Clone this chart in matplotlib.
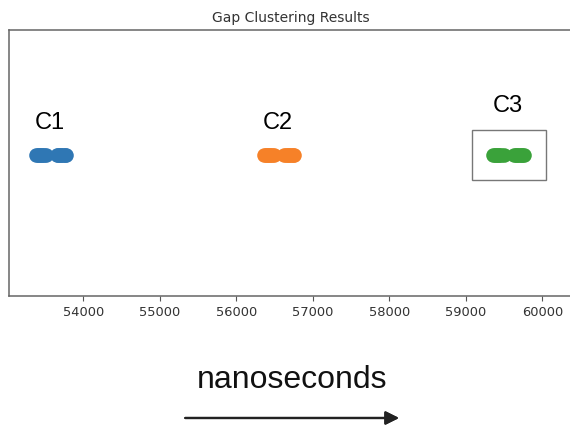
import numpy as np
import matplotlib.pyplot as plt
from matplotlib.patches import Rectangle

# cluster gap values (ns)
c1_gaps = [53385, 53405, 53425, 53445, 53465, 53485, 53510,
           53650, 53670, 53690, 53710, 53730, 53755, 53775]
c2_gaps = [56365, 56385, 56405, 56425, 56445, 56465, 56490,
           56630, 56650, 56670, 56690, 56710, 56735, 56755]
c3_gaps = [59360, 59380, 59400, 59420, 59440, 59465, 59495,
           59635, 59655, 59675, 59695, 59715, 59740, 59760]
cluster_names = ['C1', 'C2', 'C3']
cluster_colors = ['#2f77b4', '#f68128', '#3aa23a']
xticks = [54000, 55000, 56000, 57000, 58000, 59000, 60000]

fig = plt.figure(figsize=(5.70, 4.26), dpi=100)
ax = fig.add_axes([9 / 570, 130 / 426, 563 / 570, 266 / 426])

clusters = [c1_gaps, c2_gaps, c3_gaps]
for gaps, col in zip(clusters, cluster_colors):
    ax.scatter(gaps, np.zeros(len(gaps)), s=110, color=col, linewidths=0)

ax.set_xlim(53029, 60388)
ax.set_ylim(-0.053, 0.047)
ax.set_yticks([])
ax.set_xticks(xticks)
ax.set_xticklabels([str(t) for t in xticks], fontsize=9.4, color='#333333')
ax.tick_params(axis='x', length=3.5, width=0.8, color='#555555', pad=4)
for sp in ax.spines.values():
    sp.set_color('#666666')
    sp.set_linewidth(1.1)

ax.set_title('Gap Clustering Results', fontsize=10, color='#333333', pad=6)

# cluster labels
trans = ax.get_xaxis_transform()
label_y = [0.628, 0.628, 0.692]
for gaps, name, ly in zip(clusters, cluster_names, label_y):
    ax.text(np.mean(gaps) - 10, ly, name, transform=trans, ha='center', va='baseline',
            fontsize=17, family='Liberation Sans', color='black')

# box around C3
ax.add_patch(Rectangle((59085, 0.436), 964, 0.188, transform=trans,
                       fill=False, edgecolor='#777777', linewidth=1.0))

fig.text(0.512, 0.089, 'nanoseconds', ha='center', va='baseline',
         fontsize=23, family='Liberation Sans', color='#111111')
fig.add_artist(plt.annotate('', xy=(0.70, 0.0188), xytext=(0.325, 0.0188),
                            xycoords='figure fraction',
                            arrowprops=dict(arrowstyle='-|>', lw=1.6, color='#222222',
                                            mutation_scale=20, shrinkA=0, shrinkB=0)))

plt.savefig('out.png', dpi=100)
